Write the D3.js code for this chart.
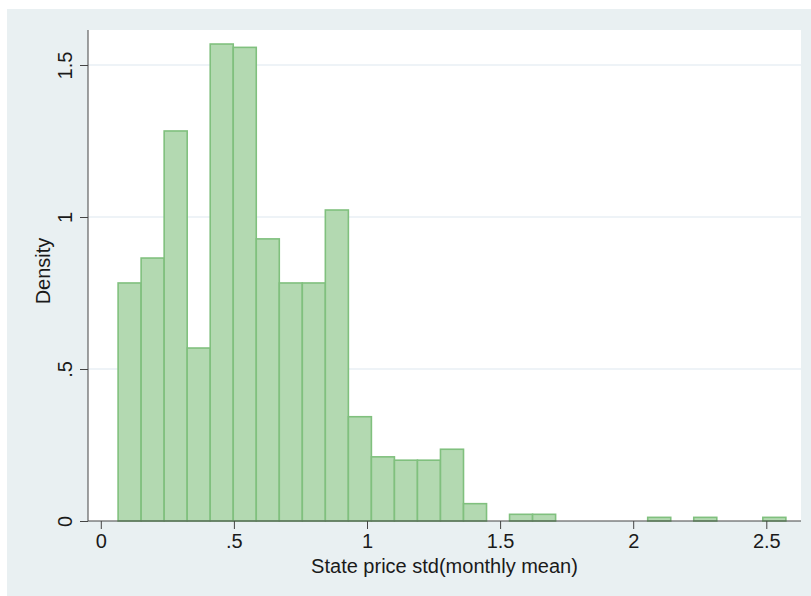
<!DOCTYPE html>
<html lang="en">
<head>
  <meta charset="UTF-8">
  <title>State price std histogram</title>
  <script src="https://d3js.org/d3.v7.min.js"></script>
  <style>
    body { margin: 0; background: #fff; }
    text { font-family: "Liberation Sans", Arial, sans-serif; fill: #1a1a1a; }
  </style>
</head>
<body>
  <script>
    // histogram bins (left edge of first bin, bin width) and density per bin
    var binStart = 0.065;
    var binWidth = 0.0865;
    var densities = [0.783, 0.865, 1.283, 0.569, 1.569, 1.558, 0.928, 0.783, 0.783, 1.023,
      0.343, 0.211, 0.200, 0.200, 0.236, 0.057, 0, 0.022, 0.022, 0, 0, 0, 0, 0.012, 0, 0.012, 0, 0, 0.012];
    var xTicks = [0, 0.5, 1, 1.5, 2, 2.5];
    var xTickLabels = ["0", ".5", "1", "1.5", "2", "2.5"];
    var yTicks = [0, 0.5, 1, 1.5];
    var yTickLabels = ["0", ".5", "1", "1.5"];

    var W = 811, H = 596;
    var plot = { left: 88, right: 801, top: 30, bottom: 521 };

    var x = d3.scaleLinear().domain([0, 2.5]).range([100.8, 766.3]);
    var y = d3.scaleLinear().domain([0, 1.5]).range([plot.bottom, 65]);

    var svg = d3.select("body").append("svg")
      .attr("width", W)
      .attr("height", H);

    // outer grey-blue background
    svg.append("rect")
      .attr("x", 7).attr("y", 9)
      .attr("width", W - 7).attr("height", H - 9)
      .attr("fill", "#e9f0f2");

    // plot region
    svg.append("rect")
      .attr("x", plot.left).attr("y", plot.top)
      .attr("width", plot.right - plot.left).attr("height", plot.bottom - plot.top)
      .attr("fill", "#fff");

    // horizontal grid lines
    svg.append("g").selectAll("line")
      .data(yTicks.slice(1))
      .enter().append("line")
      .attr("x1", plot.left).attr("x2", plot.right)
      .attr("y1", function (d) { return y(d); })
      .attr("y2", function (d) { return y(d); })
      .attr("stroke", "#e8eff5")
      .attr("stroke-width", 1.5);

    // bars
    var bins = densities.map(function (d, i) {
      return { x0: binStart + i * binWidth, x1: binStart + (i + 1) * binWidth, v: d };
    }).filter(function (b) { return b.v > 0; });

    svg.append("g").selectAll("rect")
      .data(bins)
      .enter().append("rect")
      .attr("x", function (d) { return x(d.x0); })
      .attr("y", function (d) { return y(d.v); })
      .attr("width", function (d) { return x(d.x1) - x(d.x0); })
      .attr("height", function (d) { return y(0) - y(d.v); })
      .attr("fill", "#b3d9b1")
      .attr("stroke", "#80c07e")
      .attr("stroke-width", 1.6);

    // x axis
    var xAxis = svg.append("g")
      .attr("transform", "translate(0," + plot.bottom + ")")
      .call(d3.axisBottom(x).tickValues(xTicks)
        .tickFormat(function (d, i) { return xTickLabels[i]; })
        .tickSize(8).tickPadding(5).tickSizeOuter(0));
    xAxis.select(".domain").attr("d", "M" + plot.left + ",0H" + plot.right).attr("stroke", "#444");
    xAxis.selectAll(".tick line").attr("stroke", "#444");
    xAxis.selectAll("text").style("font-size", "20px").attr("fill", "#1a1a1a");

    // y axis
    var yAxis = svg.append("g")
      .attr("transform", "translate(" + plot.left + ",0)")
      .call(d3.axisLeft(y).tickValues(yTicks)
        .tickFormat(function (d, i) { return yTickLabels[i]; })
        .tickSize(8).tickSizeOuter(0));
    yAxis.select(".domain").attr("d", "M0," + plot.top + "V" + plot.bottom).attr("stroke", "#444");
    yAxis.selectAll(".tick line").attr("stroke", "#444");
    yAxis.selectAll("text")
      .style("font-size", "20px")
      .attr("fill", "#1a1a1a")
      .attr("x", null).attr("dy", null)
      .attr("text-anchor", "middle")
      .attr("transform", "translate(-16,0) rotate(-90)");

    // axis titles
    svg.append("text")
      .attr("x", (plot.left + plot.right) / 2)
      .attr("y", 573)
      .attr("text-anchor", "middle")
      .style("font-size", "20px")
      .text("State price std(monthly mean)");

    svg.append("text")
      .attr("transform", "translate(50," + 271 + ") rotate(-90)")
      .attr("text-anchor", "middle")
      .style("font-size", "20px")
      .text("Density");
  </script>
</body>
</html>
